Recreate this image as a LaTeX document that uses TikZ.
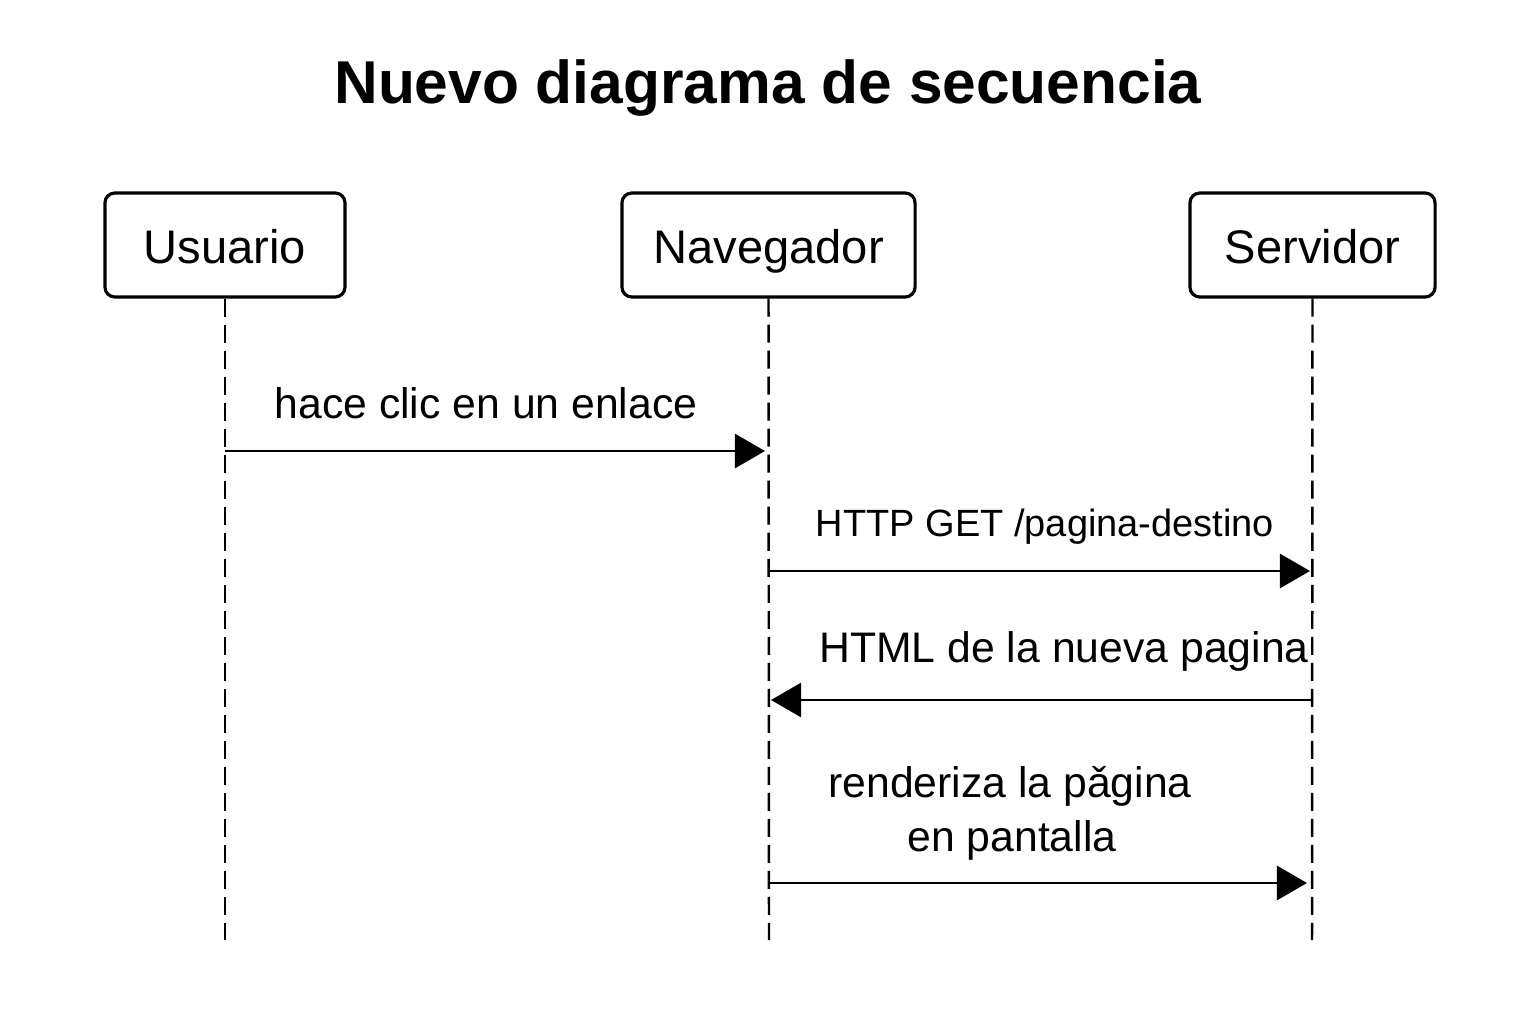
\documentclass[tikz,border=0pt]{standalone}
\usepackage{fontspec}
\setmainfont{Liberation Sans}
\usetikzlibrary{arrows.meta}
\begin{document}
\begin{tikzpicture}[x=0.01cm,y=-0.01cm,
  actor/.style={draw,line width=0.9pt,rounded corners=0.1cm,fill=white,inner sep=0pt,
    text height=0.41cm,text depth=0.05cm,
    minimum height=1.04cm,font=\fontsize{13.4pt}{16pt}\selectfont},
  lifeline/.style={line width=0.7pt,dash pattern=on 0.18cm off 0.08cm},
  msg/.style={line width=0.75pt,-{Triangle[length=0.3cm,width=0.34cm]}},
  lbl/.style={anchor=base,inner sep=0pt,font=\fontsize{12.15pt}{15.4pt}\selectfont,align=center}]
\useasboundingbox (0,0) rectangle (1536,1024);
\node[anchor=base,inner sep=0pt,font=\bfseries\fontsize{17.2pt}{20pt}\selectfont] (title) at (768,103) {Nuevo diagrama de secuencia};
\node[actor,minimum width=2.40cm] (u) at (225,245) {Usuario};
\node[actor,minimum width=2.93cm] (n) at (768.5,245) {Navegador};
\node[actor,minimum width=2.45cm] (s) at (1312.5,245) {Servidor};
\coordinate (ue) at (225,940);
\coordinate (ne) at (769,940);
\coordinate (se) at (1312,940);
\draw[lifeline] (u.south) -- (ue);
\draw[lifeline] (n.south) -- (ne);
\draw[lifeline] (s.south) -- (se);
% message 1
\coordinate (m1a) at (225,451);
\coordinate (m1b) at (765,451);
\draw[msg] (m1a) -- (m1b);
\node[lbl] (l1) at (486,418) {hace clic en un enlace};
% message 2
\coordinate (m2a) at (769,571);
\coordinate (m2b) at (1310,571);
\draw[msg] (m2a) -- (m2b);
\node[lbl,font=\fontsize{10.8pt}{13pt}\selectfont] (l2) at (1045,536) {HTTP GET /pagina-destino};
% message 3
\coordinate (m3a) at (1312,700);
\coordinate (m3b) at (771,700);
\draw[msg] (m3a) -- (m3b);
\node[lbl] (l3) at (1064,662) {HTML de la nueva pagina};
% message 4
\coordinate (m4a) at (769,883);
\coordinate (m4b) at (1307,883);
\draw[msg] (m4a) -- (m4b);
\node[lbl] (l4a) at (1010,797) {renderiza la pǎgina};
\node[lbl] (l4b) at (1012,851) {en pantalla};
\end{tikzpicture}
\end{document}
